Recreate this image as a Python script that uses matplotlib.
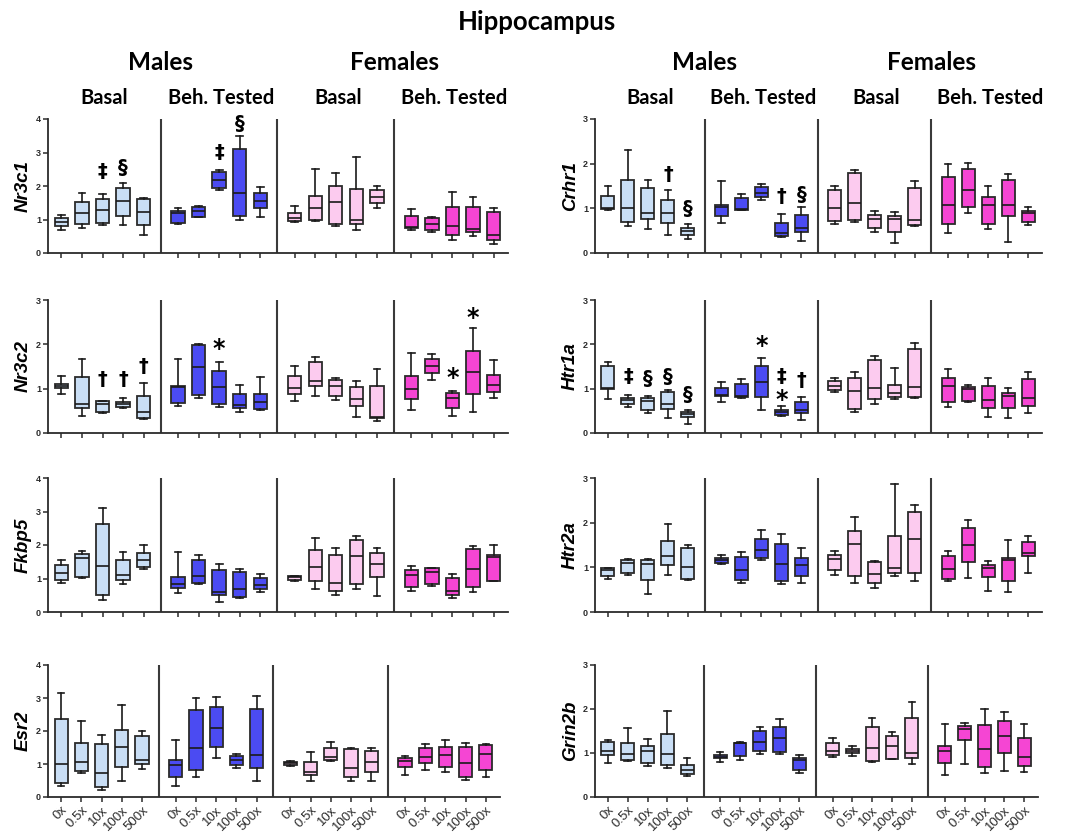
import matplotlib
matplotlib.use('Agg')
import matplotlib.pyplot as plt
import matplotlib.transforms as mtransforms

# ---------------- data ----------------
doses = ['0x', '0.5x', '10x', '100x', '500x']
sexes = ['Males', 'Females']
conditions = ['Basal', 'Beh. Tested', 'Basal', 'Beh. Tested']
group_colors = ['#c9def5', '#4b4bf2', '#fccbef', '#f545d3']

# each list: 20 boxes = 4 groups (M basal, M tested, F basal, F tested) x 5 doses
nr3c1_min = [0.70,0.74,0.85,0.84,0.55, 0.86,1.06,1.89,1.00,1.08, 0.92,0.95,0.80,0.70,1.34, 0.70,0.64,0.40,0.51,0.28]
nr3c1_q1  = [0.80,0.88,0.90,1.10,0.85, 0.89,1.08,1.93,1.11,1.33, 0.97,0.98,0.88,0.87,1.48, 0.74,0.70,0.55,0.63,0.38]
nr3c1_med = [0.93,1.18,1.28,1.56,1.21, 1.20,1.24,2.19,1.78,1.56, 1.05,1.34,1.51,1.00,1.66, 0.78,0.88,0.80,0.72,0.54]
nr3c1_q3  = [1.03,1.53,1.61,1.95,1.60, 1.26,1.37,2.43,3.09,1.78, 1.20,1.71,2.00,1.91,1.88, 1.10,1.05,1.37,1.38,1.22]
nr3c1_max = [1.13,1.78,1.77,2.09,1.63, 1.33,1.40,2.47,3.49,1.97, 1.39,2.51,2.40,2.86,2.00, 1.30,1.08,1.81,1.68,1.34]

crhr1_min = [0.97,0.60,0.54,0.40,0.32, 0.68,0.96,1.19,0.35,0.26, 0.66,0.69,0.47,0.22,0.60, 0.44,0.90,0.54,0.24,0.62]
crhr1_q1  = [0.98,0.70,0.77,0.68,0.41, 0.82,0.96,1.25,0.37,0.48, 0.71,0.74,0.55,0.46,0.62, 0.65,1.02,0.65,0.83,0.69]
crhr1_med = [1.00,1.00,0.90,0.90,0.50, 1.03,0.98,1.34,0.44,0.57, 1.00,1.11,0.76,0.77,0.74, 1.07,1.40,1.07,1.08,0.89]
crhr1_q3  = [1.28,1.64,1.46,1.19,0.57, 1.07,1.24,1.47,0.68,0.85, 1.40,1.80,0.86,0.83,1.45, 1.70,1.88,1.25,1.64,0.94]
crhr1_max = [1.49,2.31,1.64,1.40,0.65, 1.62,1.33,1.55,0.87,1.02, 1.49,1.86,0.94,0.92,1.62, 1.99,2.01,1.50,1.76,1.04]

nr3c2_min = [0.88,0.38,0.46,0.56,0.32, 0.62,0.79,0.59,0.47,0.51, 0.72,0.84,0.75,0.36,0.27, 0.53,1.19,0.39,0.48,0.79]
nr3c2_q1  = [1.01,0.57,0.47,0.59,0.34, 0.68,0.86,0.66,0.56,0.54, 0.87,1.05,0.84,0.60,0.33, 0.77,1.35,0.56,0.88,0.93]
nr3c2_med = [1.05,0.66,0.66,0.65,0.47, 1.03,1.50,1.04,0.64,0.70, 1.01,1.17,1.05,0.77,0.35, 0.99,1.52,0.78,1.37,1.08]
nr3c2_q3  = [1.10,1.26,0.73,0.71,0.84, 1.05,1.98,1.39,0.87,0.89, 1.28,1.60,1.19,1.04,1.07, 1.29,1.68,0.90,1.84,1.31]
nr3c2_max = [1.29,1.67,0.73,0.79,1.13, 1.67,2.00,1.61,1.09,1.26, 1.52,1.72,1.25,1.17,1.44, 1.80,1.78,0.95,2.36,1.64]

htr1a_min = [0.77,0.59,0.45,0.34,0.21, 0.69,0.80,0.53,0.38,0.30, 0.93,0.47,0.66,0.77,0.78, 0.58,0.69,0.35,0.33,0.45]
htr1a_q1  = [0.99,0.66,0.53,0.54,0.35, 0.84,0.81,0.81,0.40,0.45, 0.98,0.54,0.77,0.81,0.82, 0.71,0.73,0.56,0.56,0.62]
htr1a_med = [1.01,0.74,0.73,0.66,0.43, 0.85,0.83,1.14,0.47,0.53, 1.07,0.95,1.01,0.90,1.03, 1.05,0.99,0.74,0.83,0.80]
htr1a_q3  = [1.52,0.80,0.79,0.92,0.47, 1.01,1.10,1.52,0.53,0.71, 1.18,1.23,1.64,1.08,1.89, 1.25,1.03,1.05,0.90,1.22]
htr1a_max = [1.61,0.86,0.84,0.96,0.51, 1.14,1.22,1.69,0.60,0.81, 1.25,1.37,1.73,1.46,2.04, 1.44,1.08,1.25,1.01,1.38]

fkbp5_min = [0.86,1.02,0.35,0.83,1.29, 0.57,0.85,0.31,0.43,0.60, 0.93,0.68,0.51,0.68,0.47, 0.63,0.77,0.43,0.59,0.93]
fkbp5_q1  = [0.96,1.05,0.50,0.95,1.34, 0.72,0.88,0.50,0.46,0.69, 0.97,0.93,0.63,0.83,1.04, 0.74,0.85,0.50,0.75,0.93]
fkbp5_med = [1.17,1.60,1.36,1.11,1.56, 0.85,1.06,0.59,0.69,0.82, 1.03,1.34,0.88,1.68,1.43, 1.11,1.18,0.62,1.29,1.64]
fkbp5_q3  = [1.39,1.72,2.64,1.56,1.76, 1.03,1.56,1.26,1.20,1.02, 1.07,1.84,1.71,2.14,1.77, 1.26,1.30,1.01,1.89,1.70]
fkbp5_max = [1.54,1.83,3.11,1.79,1.99, 1.79,1.70,1.44,1.27,1.12, 1.07,2.22,1.91,2.28,1.90, 1.37,1.32,1.14,1.98,2.00]

htr2a_min = [0.74,0.82,0.40,0.82,0.72, 1.07,0.65,1.16,0.63,0.66, 0.82,0.64,0.53,0.81,0.69, 0.69,0.76,0.47,0.45,0.87]
htr2a_q1  = [0.80,0.88,0.71,1.06,0.75, 1.10,0.71,1.21,0.69,0.80, 0.93,0.81,0.65,0.88,0.88, 0.73,1.11,0.78,0.70,1.26]
htr2a_med = [0.93,1.10,1.08,1.25,1.01, 1.16,0.93,1.38,1.08,1.06, 1.18,1.52,0.84,0.99,1.63, 0.97,1.49,0.99,1.16,1.33]
htr2a_q3  = [0.99,1.16,1.17,1.59,1.44, 1.20,1.24,1.63,1.53,1.22, 1.28,1.82,1.13,1.70,2.23, 1.25,1.88,1.06,1.21,1.56]
htr2a_max = [0.99,1.19,1.19,1.96,1.51, 1.28,1.34,1.84,1.75,1.44, 1.36,2.12,1.15,2.86,2.39, 1.37,2.07,1.14,1.62,1.71]

esr2_min = [0.33,0.72,0.20,0.48,0.85, 0.33,0.62,1.18,0.87,0.48, 0.94,0.50,1.08,0.48,0.50, 0.67,0.83,0.77,0.52,0.60]
esr2_q1  = [0.43,0.80,0.30,0.91,1.00, 0.60,0.82,1.51,0.98,0.87, 0.97,0.66,1.12,0.62,0.75, 0.90,1.02,0.92,0.60,0.82]
esr2_med = [1.00,1.05,0.72,1.53,1.12, 0.98,1.47,2.10,1.12,1.26, 1.02,0.75,1.22,0.87,1.07, 1.08,1.22,1.28,1.02,1.30]
esr2_q3  = [2.35,1.65,1.60,2.04,1.86, 1.12,2.63,2.73,1.25,2.66, 1.07,1.07,1.50,1.45,1.40, 1.17,1.47,1.52,1.52,1.58]
esr2_max = [3.15,2.29,1.87,2.79,2.00, 1.74,3.01,3.03,1.30,3.05, 1.10,1.37,1.66,1.50,1.50, 1.25,1.60,1.73,1.65,1.62]

grin2b_min = [0.77,0.81,0.71,0.66,0.47, 0.80,0.84,0.98,0.98,0.54, 0.90,0.93,0.79,0.86,0.75, 0.49,0.75,0.54,0.58,0.56]
grin2b_q1  = [0.96,0.85,0.77,0.73,0.53, 0.88,0.93,1.05,1.02,0.62, 0.96,1.01,0.81,0.86,0.88, 0.77,1.29,0.69,0.99,0.70]
grin2b_med = [1.05,0.98,1.05,0.98,0.62, 0.92,1.22,1.26,1.35,0.83, 1.05,1.05,1.12,1.17,1.01, 1.05,1.55,1.09,1.39,0.90]
grin2b_q3  = [1.26,1.22,1.17,1.44,0.73, 0.96,1.23,1.49,1.60,0.89, 1.22,1.08,1.59,1.38,1.80, 1.16,1.61,1.63,1.73,1.34]
grin2b_max = [1.29,1.56,1.32,1.95,0.88, 1.03,1.26,1.60,1.77,0.96, 1.34,1.17,1.80,1.47,2.15, 1.66,1.69,2.01,1.94,1.66]

# significance marks: (box index, symbol, y centre)
nr3c1_marks = [(2, '‡', 2.43), (3, '§', 2.56), (7, '‡', 2.99), (8, '§', 3.88)]
crhr1_marks = [(3, '†', 1.75), (4, '§', 1.00), (8, '†', 1.26), (9, '§', 1.32)]
nr3c2_marks = [(2, '†', 1.20), (3, '†', 1.20), (4, '†', 1.49), (7, '*', 1.99),
               (17, '*', 1.35), (18, '*', 2.70)]
htr1a_marks = [(1, '‡', 1.28), (2, '§', 1.22), (3, '§', 1.28), (4, '§', 0.86),
               (7, '*', 2.06), (8, '‡', 1.28), (8, '*', 0.84), (9, '†', 1.19)]

# (name, ymax, stats..., marks, column, row)
panels = [
    ('Nr3c1', 4, nr3c1_min, nr3c1_q1, nr3c1_med, nr3c1_q3, nr3c1_max, nr3c1_marks, 0, 0),
    ('Nr3c2', 3, nr3c2_min, nr3c2_q1, nr3c2_med, nr3c2_q3, nr3c2_max, nr3c2_marks, 0, 1),
    ('Fkbp5', 4, fkbp5_min, fkbp5_q1, fkbp5_med, fkbp5_q3, fkbp5_max, [], 0, 2),
    ('Esr2', 4, esr2_min, esr2_q1, esr2_med, esr2_q3, esr2_max, [], 0, 3),
    ('Crhr1', 3, crhr1_min, crhr1_q1, crhr1_med, crhr1_q3, crhr1_max, crhr1_marks, 1, 0),
    ('Htr1a', 3, htr1a_min, htr1a_q1, htr1a_med, htr1a_q3, htr1a_max, htr1a_marks, 1, 1),
    ('Htr2a', 3, htr2a_min, htr2a_q1, htr2a_med, htr2a_q3, htr2a_max, [], 1, 2),
    ('Grin2b', 3, grin2b_min, grin2b_q1, grin2b_med, grin2b_q3, grin2b_max, [], 1, 3),
]

# ---------------- layout ----------------
W, H = 1072, 834
fig = plt.figure(figsize=(W / 100, H / 100), dpi=100)

row_y = [(119, 253), (300, 433), (478, 612), (665, 797)]
col_x = [[(48, 508), (48, 508), (48, 508), (48, 500)],
         [(595, 1042), (595, 1042), (595, 1042), (595, 1038)]]

GSTEP = 5.67
positions = [g * GSTEP + i for g in range(4) for i in range(5)]
dividers = [g * GSTEP - (GSTEP - 4) / 2 for g in range(1, 4)]
XLIM = (-0.65, 3 * GSTEP + 4 + 0.7)

AX_COLOR = '#2b2b2b'
TICK_FONT = 'Liberation Sans'
HEAD_FONT = 'Lato'

top_axes = {}
for (name, ymax, vmin, vq1, vmed, vq3, vmax, marks, col, row) in panels:
    x0, x1 = col_x[col][row]
    yt, yb = row_y[row]
    ax = fig.add_axes([x0 / W, 1 - yb / H, (x1 - x0) / W, (yb - yt) / H])
    stats = [dict(whislo=vmin[k], q1=vq1[k], med=vmed[k], q3=vq3[k], whishi=vmax[k], fliers=[])
             for k in range(20)]
    bp = ax.bxp(stats, positions=positions, widths=0.65, capwidths=0.33,
                showfliers=False, patch_artist=True,
                boxprops=dict(edgecolor=AX_COLOR, linewidth=1.3),
                medianprops=dict(color='#1a1a1a', linewidth=1.2),
                whiskerprops=dict(color='#1a1a1a', linewidth=1.2),
                capprops=dict(color='#1a1a1a', linewidth=1.2))
    for k, patch in enumerate(bp['boxes']):
        patch.set_facecolor(group_colors[k // 5])
    ax.vlines(dividers, 0, ymax, color='#3a3a3a', linewidth=1.5)
    ax.set_xlim(*XLIM)
    ax.set_ylim(0, ymax)
    ax.set_yticks(range(ymax + 1))
    ax.set_xticks(positions)
    for s in ['top', 'right']:
        ax.spines[s].set_visible(False)
    for s in ['left', 'bottom']:
        ax.spines[s].set_color(AX_COLOR)
        ax.spines[s].set_linewidth(1.3)
    ax.tick_params(axis='both', colors=AX_COLOR, width=1.1, length=3.5)
    ax.tick_params(axis='y', labelsize=6.5, pad=1.5)
    for lab in ax.get_yticklabels():
        lab.set_fontweight('bold')
        lab.set_family(TICK_FONT)
    if row == 3:
        ax.set_xticklabels(doses * 4, rotation=45, ha='right', rotation_mode='anchor',
                           fontsize=9.5, family=TICK_FONT)
        ax.tick_params(axis='x', pad=1.5)
    else:
        ax.set_xticklabels([])
    ax.set_ylabel(name, fontsize=13.5, fontweight='bold', fontstyle='italic',
                  family=TICK_FONT, labelpad=3)
    for (k, sym, yc) in marks:
        fs = 17 if sym == '*' else 14
        dy = -0.1 * ymax / 3 if sym == '*' else 0
        ax.text(positions[k], yc + dy, sym, ha='center', va='center', fontsize=fs,
                fontweight='bold', family='DejaVu Sans', clip_on=False)
    if row == 0:
        top_axes[col] = ax

# ---------------- headers ----------------
fig.text(537 / W, 1 - 22 / H, 'Hippocampus', ha='center', va='center',
         fontsize=18.5, fontweight='bold', family=HEAD_FONT)
for col, ax in top_axes.items():
    tr = mtransforms.blended_transform_factory(ax.transData, fig.transFigure)
    for si, sex in enumerate(sexes):
        xc = (2 * si) * GSTEP + (GSTEP + 4) / 2
        ax.text(xc, 1 - 62 / H, sex, transform=tr, ha='center', va='center',
                fontsize=17.5, fontweight='bold', family=HEAD_FONT)
    for g, cond in enumerate(conditions):
        xc = g * GSTEP + 2.1
        ax.text(xc, 1 - 98 / H, cond, transform=tr, ha='center', va='center',
                fontsize=14.5, fontweight='bold', family=HEAD_FONT)

fig.savefig('out.png', dpi=100)
